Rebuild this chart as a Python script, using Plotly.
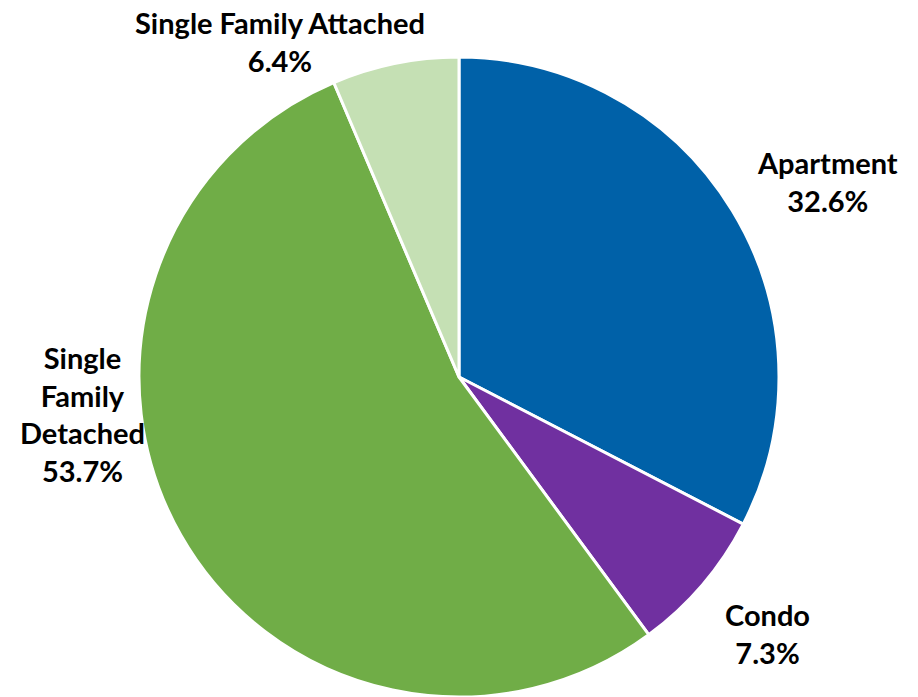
import plotly.graph_objects as go

# Housing type shares (%)
categories = ["Apartment", "Condo", "Single Family Detached", "Single Family Attached"]
shares = [32.6, 7.3, 53.7, 6.4]
label_text = ["Apartment", "Condo", "Single<br>Family<br>Detached", "Single Family Attached"]
colors = ["#0061A8", "#7030A0", "#70AD47", "#C5E0B4"]

# Label anchor points (pixels from top-left of the 918x697 canvas)
label_pos = [(827, 181), (767, 633), (82, 414), (280, 41)]

W, H = 918, 697

fig = go.Figure(
    go.Pie(
        labels=categories,
        values=shares,
        sort=False,
        direction="clockwise",
        rotation=0,
        marker=dict(colors=colors, line=dict(color="white", width=3)),
        textinfo="none",
        hoverinfo="label+percent",
        domain=dict(x=[(459 - 320) / W, (459 + 320) / W], y=[0.0, 640 / H]),
        showlegend=False,
    )
)

for txt, val, (px, py) in zip(label_text, shares, label_pos):
    fig.add_annotation(
        x=px / W,
        y=1 - py / H,
        xref="paper",
        yref="paper",
        text=f"<b>{txt}<br>{val:.1f}%</b>",
        showarrow=False,
        xanchor="center",
        yanchor="middle",
        align="center",
        font=dict(family="Lato", size=29, color="black"),
    )

fig.update_layout(
    width=W,
    height=H,
    margin=dict(l=0, r=0, t=0, b=0),
    paper_bgcolor="white",
    plot_bgcolor="white",
)

fig.write_html("out.html")
